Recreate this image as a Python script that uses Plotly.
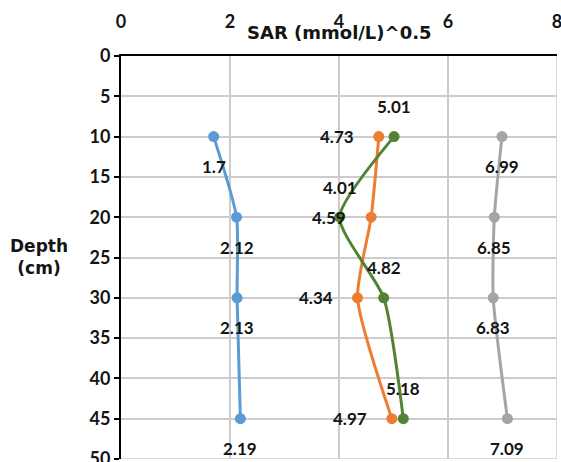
import plotly.graph_objects as go

depth = [10, 20, 30, 45]
blue_vals = [1.7, 2.12, 2.13, 2.19]
orange_vals = [4.73, 4.59, 4.34, 4.97]
gray_vals = [6.99, 6.85, 6.83, 7.09]
green_vals = [5.01, 4.01, 4.82, 5.18]

x_ticks = [0, 2, 4, 6, 8]
y_ticks = [0, 5, 10, 15, 20, 25, 30, 35, 40, 45, 50]

FONT = "Lato"
TFONT = "DejaVu Sans"
TXT = "#141414"
GRID = "#CCCCCC"

series = [
    ("Blue", blue_vals, "#5B9BD5", (0, 30)),
    ("Orange", orange_vals, "#ED7D31", (-42, 0)),
    ("Gray", gray_vals, "#A5A5A5", (0, 30)),
    ("Green", green_vals, "#548235", (0, -30)),
]

W, H = 561, 462
ML, MR, MT, MB = 121, 4, 56, 3
pw, ph = W - ML - MR, H - MT - MB

fig = go.Figure()
annotations = []
for name, vals, color, (dx, dy) in series:
    fig.add_trace(go.Scatter(
        x=vals, y=depth, mode="lines+markers", name=name,
        line=dict(color=color, width=3, shape="spline", smoothing=0.6),
        marker=dict(color=color, size=11),
        showlegend=False,
    ))
    for v, d in zip(vals, depth):
        annotations.append(dict(
            x=v, y=d, xref="x", yref="y", text=f"<b>{v:g}</b>",
            showarrow=False, xshift=dx, yshift=-dy,
            xanchor="center", yanchor="middle",
            font=dict(family=FONT, size=17, color=TXT),
        ))

annotations.append(dict(
    x=4, y=1, xref="x", yref="paper", xanchor="center", yanchor="middle",
    yshift=(MT - 32),
    text="<b>SAR (mmol/L)^0.5</b>", showarrow=False,
    font=dict(family=TFONT, size=18, color=TXT),
))
annotations.append(dict(
    x=(39 - ML) / pw, y=1 - (257 - MT) / ph, xref="paper", yref="paper",
    xanchor="center", yanchor="middle",
    showarrow=False, text="<b>Depth</b><br><b>(cm)</b>",
    font=dict(family=TFONT, size=17, color=TXT),
))

shapes = [
    dict(type="line", xref="x", yref="y", x0=8, x1=8, y0=0, y1=50,
         line=dict(color=GRID, width=1.5)),
    dict(type="line", xref="x", yref="y", x0=0, x1=8, y0=50, y1=50,
         line=dict(color=GRID, width=1.5)),
]

fig.update_layout(
    width=W, height=H,
    margin=dict(l=ML, r=MR, t=MT, b=MB, autoexpand=False),
    paper_bgcolor="white", plot_bgcolor="white",
    annotations=annotations, shapes=shapes,
    font=dict(family=FONT, size=18, color=TXT),
)
fig.update_xaxes(
    side="top", range=[0, 8], tickvals=x_ticks,
    ticktext=[f"<b>{t}</b>" for t in x_ticks],
    tickfont=dict(family=FONT, size=18, color=TXT),
    showgrid=True, gridcolor=GRID, gridwidth=1.5,
    showline=True, linecolor="black", linewidth=2,
    ticks="", ticklabelstandoff=19, ticklabeloverflow="allow",
    zeroline=False, automargin=False,
)
fig.update_yaxes(
    range=[50, 0], tickvals=y_ticks,
    ticktext=[f"<b>{t}</b>" for t in y_ticks],
    tickfont=dict(family=FONT, size=18, color=TXT),
    showgrid=True, gridcolor=GRID, gridwidth=1.5,
    showline=True, linecolor="black", linewidth=2,
    ticks="outside", ticklen=5, tickcolor="black", tickwidth=1.5,
    ticklabeloverflow="allow", zeroline=False, automargin=False,
)
fig.write_html("out.html")
